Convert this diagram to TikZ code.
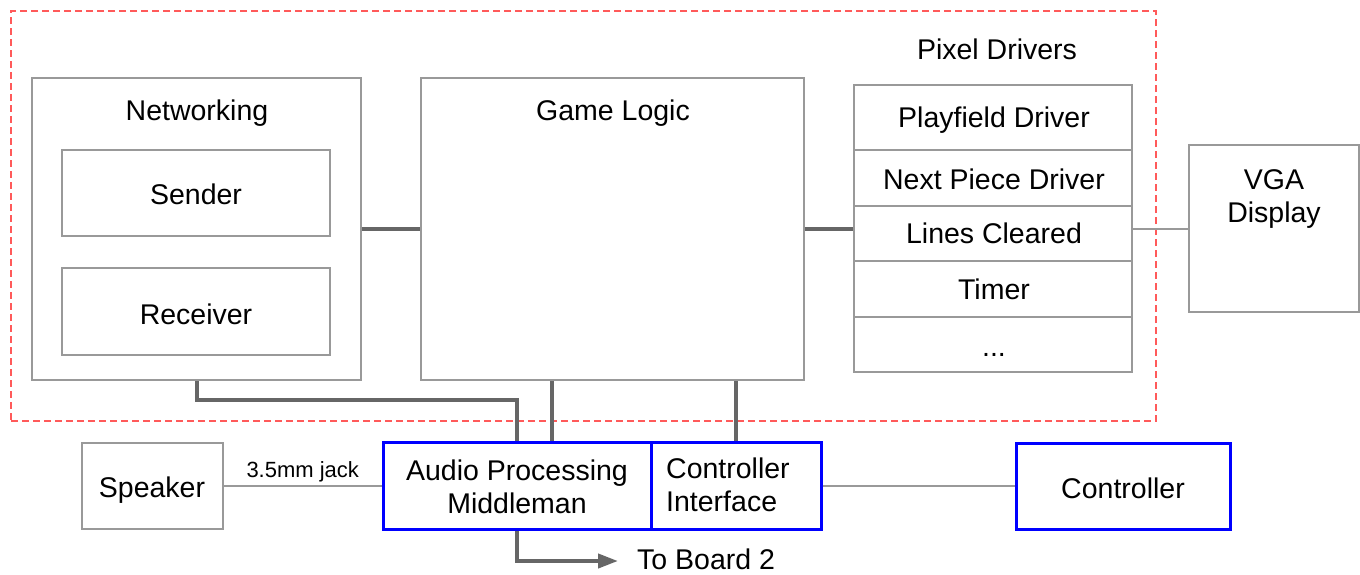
\documentclass[tikz,border=0pt]{standalone}
\usepackage{fontspec}
\setmainfont{Liberation Sans}
\usetikzlibrary{arrows.meta,calc}
\definecolor{boxgray}{HTML}{999999}
\definecolor{linkgray}{HTML}{666666}
\definecolor{dashred}{HTML}{FF5A5A}
\definecolor{pureblue}{HTML}{0000FF}
\tikzset{
  box/.style={draw=boxgray, line width=2pt, inner sep=0pt, fill=white},
  bluebox/.style={draw=pureblue, line width=3pt, inner sep=0pt, fill=white},
  txt/.style={inner sep=0pt, font=\fontsize{28.5}{33}\selectfont, align=center},
  smalltxt/.style={inner sep=0pt, font=\fontsize{22}{26}\selectfont},
  thicklink/.style={draw=linkgray, line width=4pt},
  thinlink/.style={draw=boxgray, line width=2pt},
  group/.style={draw=dashred, line width=2pt, dash pattern=on 7pt off 4pt, inner sep=0pt},
}
\begin{document}
\begin{tikzpicture}[x=1pt,y=-1pt]
\useasboundingbox (0,0) rectangle (1360,574);
% dashed group
\node[group, minimum width=1145pt, minimum height=410pt] (grp) at (583.5,216) {};
% Networking
\node[box, minimum width=329pt, minimum height=302pt] (net) at (196.5,229) {};
\node[txt] (nettxt) at (197,113) {Networking};
\node[box, minimum width=268pt, minimum height=86pt] (send) at (196,193) {};
\node[txt] (sendtxt) at (196,194) {Sender};
\node[box, minimum width=268pt, minimum height=87pt] (recv) at (196,311.5) {};
\node[txt] (recvtxt) at (196,314) {Receiver};
% Game logic
\node[box, minimum width=383pt, minimum height=302pt] (game) at (612,229) {};
\node[txt] (gametxt) at (613,113) {Game Logic};
% Pixel drivers
\node[txt] (pdtxt) at (997,49) {Pixel Drivers};
\node[box, minimum width=278pt, minimum height=65pt] (r1) at (993,117.5) {};
\node[box, minimum width=278pt, minimum height=56pt] (r2) at (993,178) {};
\node[box, minimum width=278pt, minimum height=55pt] (r3) at (993,233.5) {};
\node[box, minimum width=278pt, minimum height=56pt] (r4) at (993,289) {};
\node[box, minimum width=278pt, minimum height=55pt] (r5) at (993,344.5) {};
\node[txt] (r1t) at (994,120) {Playfield Driver};
\node[txt] (r2t) at (994,179) {Next Piece Driver};
\node[txt] (r3t) at (994,233) {Lines Cleared};
\node[txt] (r4t) at (994,289) {Timer};
\node[txt] (r5t) at (994,355) {...};
% VGA
\node[box, minimum width=170pt, minimum height=167pt] (vga) at (1274,228.5) {};
\node[txt] (vgat) at (1274,199) {VGA\\Display};
% bottom row
\node[box, minimum width=141pt, minimum height=86pt] (spk) at (152.5,486) {};
\node[txt] (spkt) at (152,490) {Speaker};
\node[bluebox, minimum width=268pt, minimum height=87pt] (audio) at (517,485.5) {};
\node[txt] (audiot) at (517,486.5) {Audio Processing\\Middleman};
\node[bluebox, minimum width=170pt, minimum height=87pt] (ctrlif) at (736,485.5) {};
\node[txt, align=left, anchor=west] (ctrlift) at (666,485) {Controller\\Interface};
\node[bluebox, minimum width=214pt, minimum height=86pt] (ctrl) at (1123,486) {};
\node[txt] (ctrlt) at (1123,488) {Controller};
\node[txt, anchor=west] (board) at (637,559) {To Board 2};
\coordinate (b2) at (618,561);
% connectors
\draw[thicklink] (net.east) -- (net.east -| game.west);
\draw[thicklink] (game.east) -- (game.east -| r3.west);
\draw[thinlink] (vga.west -| r3.east) -- (vga.west);
\draw[thicklink] (net.south) -- ++(0,19) -| (audio.north);
\draw[thicklink] ([xshift=-60pt]game.south) -- ([xshift=-60pt]game.south |- audio.north);
\draw[thicklink] (ctrlif.north |- game.south) -- (ctrlif.north);
\draw[thinlink] (spk.east) -- node[smalltxt, above=3pt] (jack) {3.5mm jack} (spk.east -| audio.west);
\draw[thinlink] (ctrlif.east) -- (ctrlif.east -| ctrl.west);
\draw[thicklink, -{Triangle[length=20pt,width=14pt]}] (audio.south) |- (b2);
\end{tikzpicture}
\end{document}
